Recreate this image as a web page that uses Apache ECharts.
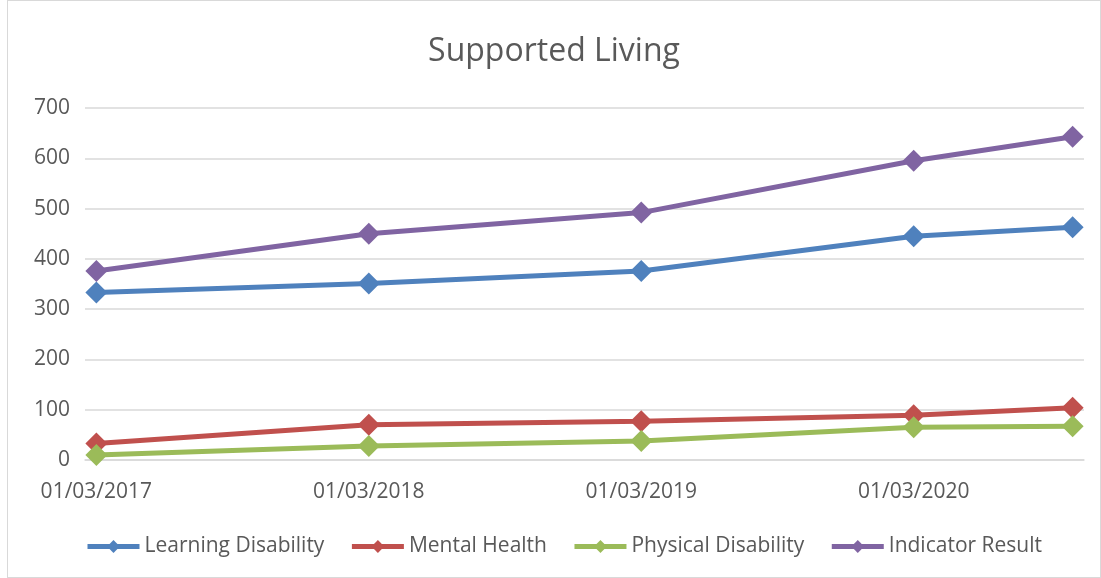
<!DOCTYPE html>
<html>
<head>
<meta charset="utf-8">
<script src="https://cdn.jsdelivr.net/npm/echarts@6/dist/echarts.min.js"></script>
<style>
  html, body { margin: 0; padding: 0; background: #fff; }
  #chart { position: absolute; left: 7px; top: 0; width: 1092px; height: 576px; border: 1px solid #d9d9d9; }
</style>
</head>
<body>
<div id="chart"></div>
<script>
// reporting dates (day/month/year) and one value per date for each series
const dates = ['2017-03', '2018-03', '2019-03', '2020-03', '2020-10'];
const learningDisability = [333, 351, 376, 445, 463];
const mentalHealth = [33, 70, 77, 89, 104];
const physicalDisability = [10, 28, 38, 65, 67];
const indicatorResult = [376, 450, 492, 595, 643];

const seriesNames = ['Learning Disability', 'Mental Health', 'Physical Disability', 'Indicator Result'];
const seriesColors = ['#4F81BD', '#C0504D', '#9BBB59', '#8064A2'];

// the date axis counts in months, from the first date to the last
function monthList(from, to) {
  let [y, m] = from.split('-').map(Number);
  const [ey, em] = to.split('-').map(Number);
  const out = [];
  while (y < ey || (y === ey && m <= em)) {
    out.push(y + '-' + String(m).padStart(2, '0'));
    m++;
    if (m > 12) { m = 1; y++; }
  }
  return out;
}

const months = monthList(dates[0], dates[dates.length - 1]);

function toMonthly(values) {
  const data = months.map(() => null);
  dates.forEach((d, i) => { data[months.indexOf(d)] = values[i]; });
  return data;
}

const chart = echarts.init(document.getElementById('chart'));
const font = "'Open Sans', 'Noto Sans', sans-serif";

const allValues = [learningDisability, mentalHealth, physicalDisability, indicatorResult];

chart.setOption({
  animation: false,
  title: {
    text: 'Supported Living',
    left: 'center',
    top: 30,
    textStyle: { color: '#595959', fontSize: 32, fontWeight: 'normal', fontFamily: font }
  },
  legend: {
    bottom: 15,
    left: 72,
    itemWidth: 52,
    itemHeight: 16,
    itemGap: 25,
    lineStyle: { width: 5 },
    textStyle: { color: '#595959', fontSize: 21, fontFamily: font },
    data: seriesNames
  },
  grid: { left: 77, right: 16, top: 107, bottom: 117, containLabel: false },
  xAxis: {
    type: 'category',
    data: months,
    boundaryGap: true,
    axisLine: { lineStyle: { color: '#d9d9d9', width: 1.5 } },
    axisTick: { interval: 11, length: 6, lineStyle: { color: '#d9d9d9', width: 1.5 } },
    axisLabel: {
      interval: 11,
      margin: 22,
      color: '#595959',
      fontSize: 21,
      fontFamily: font,
      formatter: function (v) {
        const [y, m] = v.split('-');
        return '01/' + m + '/' + y;
      }
    }
  },
  yAxis: {
    type: 'value',
    min: 0,
    max: 700,
    interval: 100,
    axisLine: { show: false },
    axisTick: { show: false },
    axisLabel: { color: '#595959', fontSize: 21, fontFamily: font, margin: 15 },
    splitLine: { lineStyle: { color: '#d9d9d9', width: 1.5 } }
  },
  series: seriesNames.map((name, i) => ({
    name: name,
    type: 'line',
    data: toMonthly(allValues[i]),
    connectNulls: true,
    symbol: 'diamond',
    symbolSize: 22,
    showSymbol: true,
    showAllSymbol: true,
    lineStyle: { width: 5, color: seriesColors[i] },
    itemStyle: { color: seriesColors[i] }
  }))
});
</script>
</body>
</html>
